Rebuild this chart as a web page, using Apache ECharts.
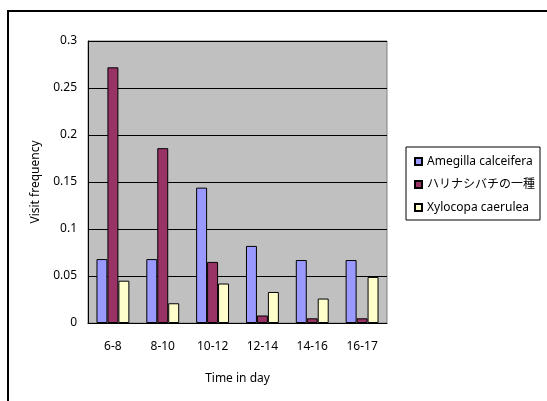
<!DOCTYPE html>
<html>
<head>
<meta charset="utf-8">
<script src="https://cdn.jsdelivr.net/npm/echarts@6/dist/echarts.min.js"></script>
<style>
  html, body { margin: 0; padding: 0; background: #fff; }
  #chart { width: 547px; height: 401px; }
</style>
</head>
<body>
<div id="chart"></div>
<script>
// data
var categories = ['6-8', '8-10', '10-12', '12-14', '14-16', '16-17'];
var seriesNames = ['Amegilla calceifera', 'ハリナシバチの一種', 'Xylocopa caerulea'];
var amegilla = [0.068, 0.068, 0.144, 0.082, 0.067, 0.067];
var harinashi = [0.272, 0.186, 0.065, 0.008, 0.005, 0.005];
var xylocopa = [0.045, 0.021, 0.042, 0.033, 0.026, 0.049];
var colors = ['#9999FF', '#993366', '#FFFFCC'];

var font = '"Noto Sans", "Noto Sans CJK JP", sans-serif';

var myChart = echarts.init(document.getElementById('chart'));

var barStyle = function (c) {
  return { color: c, borderColor: '#000', borderWidth: 1 };
};

var option = {
  animation: false,
  textStyle: { fontFamily: font, color: '#000' },
  graphic: [
    {
      type: 'rect',
      shape: { x: 8, y: 11, width: 600, height: 500 },
      style: { fill: 'none', stroke: '#000', lineWidth: 2 },
      silent: true
    }
  ],
  legend: {
    orient: 'vertical',
    left: 406,
    top: 147,
    padding: [7, 5, 5, 8],
    itemGap: 8,
    itemWidth: 7,
    itemHeight: 7,
    icon: 'rect',
    borderColor: '#000',
    borderWidth: 1,
    textStyle: { fontFamily: font, fontSize: 12, color: '#000', lineHeight: 15 },
    data: seriesNames
  },
  grid: {
    left: 88,
    top: 41,
    right: 160,
    bottom: 78,
    show: true,
    backgroundColor: '#C0C0C0',
    borderColor: '#808080',
    borderWidth: 1
  },
  xAxis: {
    type: 'category',
    data: categories,
    name: 'Time in day',
    nameLocation: 'middle',
    nameGap: 50,
    nameTextStyle: { fontFamily: font, fontSize: 12, color: '#000' },
    axisLine: { lineStyle: { color: '#000' } },
    axisTick: { inside: true, length: 4, lineStyle: { color: '#000' } },
    axisLabel: { margin: 18, fontFamily: font, fontSize: 12, color: '#000' }
  },
  yAxis: {
    type: 'value',
    min: 0,
    max: 0.3,
    interval: 0.05,
    name: 'Visit frequency',
    nameLocation: 'middle',
    nameGap: 46,
    nameTextStyle: { fontFamily: font, fontSize: 12, color: '#000' },
    axisLine: { show: true, lineStyle: { color: '#000' } },
    axisTick: { show: true, inside: true, length: 4, lineStyle: { color: '#000' } },
    axisLabel: { margin: 11, fontFamily: font, fontSize: 12, color: '#000' },
    splitLine: { lineStyle: { color: '#000', width: 1 } }
  },
  series: [
    {
      name: seriesNames[0],
      type: 'bar',
      barGap: 0,
      barCategoryGap: '34%',
      itemStyle: barStyle(colors[0]),
      data: amegilla
    },
    {
      name: seriesNames[1],
      type: 'bar',
      barGap: 0,
      barCategoryGap: '34%',
      itemStyle: barStyle(colors[1]),
      data: harinashi
    },
    {
      name: seriesNames[2],
      type: 'bar',
      barGap: 0,
      barCategoryGap: '34%',
      itemStyle: barStyle(colors[2]),
      data: xylocopa
    }
  ]
};

myChart.setOption(option);
</script>
</body>
</html>
